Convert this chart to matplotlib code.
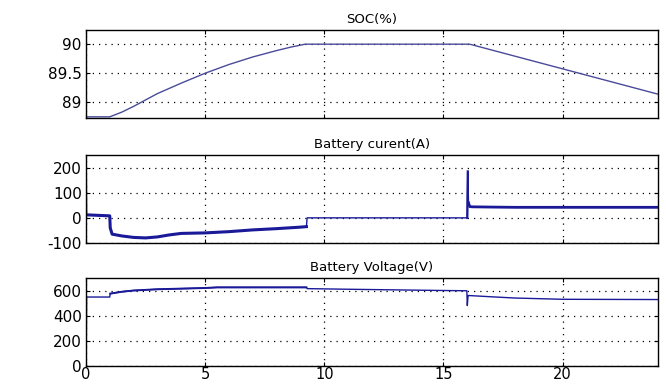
import numpy as np
import matplotlib
matplotlib.use("Agg")
import matplotlib.pyplot as plt

# SOC (%) over time
soc_t = [0, 1.0, 1.5, 2, 3, 4, 5, 6, 7, 8, 8.6, 9.2, 16.1, 24]
soc_v = [88.75, 88.75, 88.83, 88.93, 89.15, 89.33, 89.5, 89.65, 89.78, 89.89, 89.95, 90.0, 90.0, 89.14]

# Battery current (A)
cur_t = [0, 0.01, 0.03, 0.5, 1.0, 1.02, 1.1, 1.5, 2.0, 2.5, 3.0, 3.5, 4.0, 5.0, 6.0, 7.0, 8.0, 9.0, 9.25,
         9.28, 15.95, 16.0, 16.02, 16.05, 16.1, 16.2, 17.0, 18.0, 20.0, 24]
cur_v = [250, 250, 12, 10, 8, -40, -65, -72, -78, -80, -76, -68, -62, -60, -55, -48, -43, -37, -35,
         0, 0, 0, 185, 60, 45, 44, 43, 42, 42, 42]

# Battery voltage (V)
vol_t = [0, 0.01, 0.03, 1.0, 1.02, 1.5, 2.0, 3.0, 4.0, 5.0, 5.5, 9.25, 9.28, 11, 13, 15, 15.98, 16.0, 16.03,
         16.06, 17.0, 18.0, 20.0, 24]
vol_v = [0, 0, 548, 548, 575, 590, 600, 610, 615, 620, 625, 625, 615, 610, 605, 600, 598, 480, 560,
         560, 550, 540, 530, 528]

fig = plt.figure(figsize=(6.66, 3.85), dpi=100)
plt.rcParams['font.family'] = ['DejaVu Sans']

panels = [
    (soc_t, soc_v, "SOC(%)", (88.73, 90.24), [89, 89.5, 90], 0.6935),
    (cur_t, cur_v, "Battery curent(A)", (-100, 250), [-100, 0, 100, 200], 0.369),
    (vol_t, vol_v, "Battery Voltage(V)", (0, 700), [0, 200, 400, 600], 0.05),
]

axes = []
for i, (t, v, title, ylim, yticks, bottom) in enumerate(panels):
    ax = fig.add_axes([0.129, bottom, 0.859, 0.228])
    color = "#4a4a9a" if i == 0 else "#1a1a99"
    ax.plot(t, v, color=color, linewidth=1.0)
    ax.set_xlim(0, 24)
    ax.set_ylim(*ylim)
    ax.set_yticks(yticks)
    ax.set_yticklabels([f"{y:g}" for y in yticks])
    ax.set_xticks([0, 5, 10, 15, 20])
    if i < 2:
        ax.set_xticklabels([])
    ax.grid(True, color="black", linestyle=(0, (1, 4)), linewidth=0.9)
    ax.tick_params(direction="in", top=True, right=True, labelsize=11, length=3, pad=3)
    ax.tick_params(axis="x", labelsize=10.5, pad=1)
    ax.set_title(title, fontsize=9.5, pad=5)
    for s in ax.spines.values():
        s.set_linewidth(1.0)
    axes.append(ax)

# noisy stretches of the current trace look thicker
ax = axes[1]
ax.plot(cur_t[2:19], cur_v[2:19], color="#1a1a99", linewidth=2.2)
ax.plot(cur_t[23:], cur_v[23:], color="#1a1a99", linewidth=2.0)
ax.plot(cur_t[21:23], cur_v[21:23], color="#1a1a99", linewidth=1.6)

# slightly thicker stretches on the voltage trace
ax = axes[2]
ax.plot(vol_t[4:12], vol_v[4:12], color="#1a1a99", linewidth=1.4)

fig.savefig("out.png", dpi=100)
